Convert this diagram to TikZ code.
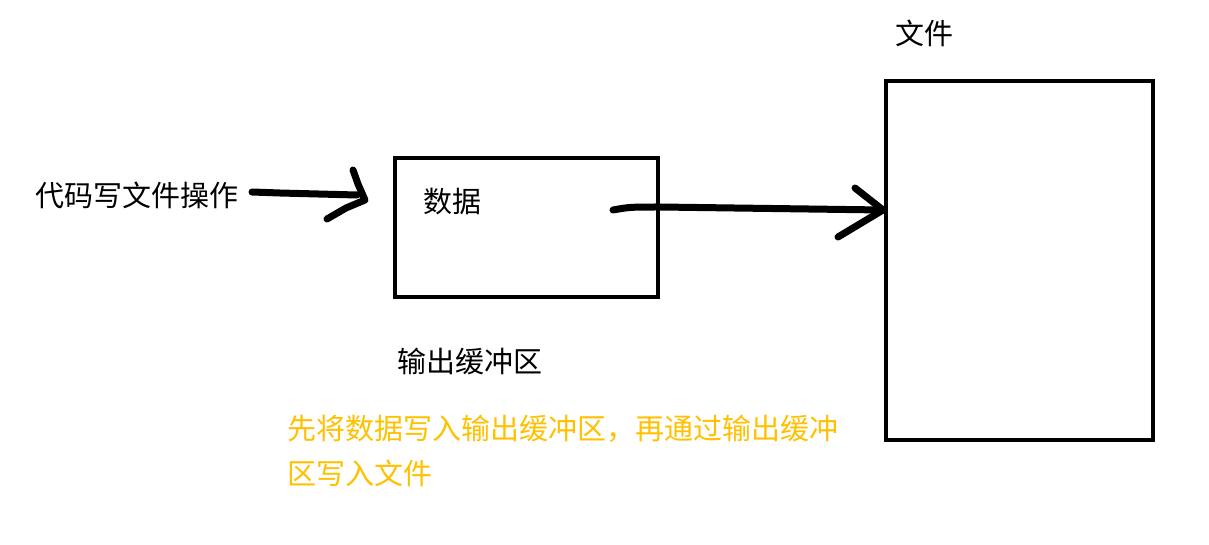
\documentclass[tikz,border=0pt]{standalone}
\usepackage{fontspec}
\setmainfont{Noto Sans CJK SC}
\usepackage{xcolor}
\usepackage{tikz}
\usetikzlibrary{positioning, calc}
\definecolor{notegold}{RGB}{255, 192, 0}
\tikzset{
  font=\fontsize{29}{45}\selectfont,
  boxblock/.style={
    rectangle, draw=black, line width=4pt, inner sep=0pt
  },
  labelblock/.style={inner sep=0pt, anchor=center},
  penline/.style={
    draw=black, line width=7pt, line cap=round, line join=round
  }
}

\begin{document}
\begin{tikzpicture}[x=1pt, y=-1pt]

  \useasboundingbox (0,0) rectangle (1209,545);

  % Output buffer and target file
  \node[boxblock, minimum width=263pt, minimum height=139pt] (buffer) at (526.5,227.5) {};
  \node[boxblock, minimum width=267pt, minimum height=359pt] (file) at (1019.5,260.5) {};

  % Labels
  \node[labelblock] (code) at (137,195) {代码写文件操作};
  \node[labelblock] (data) at (452,202) {数据};
  \node[labelblock] (bufferlabel) at (470,361) {输出缓冲区};
  \node[labelblock] (filelabel) at (924,33) {文件};
  \node[labelblock, anchor=west, align=left, text=notegold] (note) at (287,450.5)
    {先将数据写入输出缓冲区，再通过输出缓冲\\区写入文件};

  % Hand-drawn arrows
  \coordinate (inTail) at (252,192);
  \coordinate (inTip) at (365,200);
  \coordinate (outTail) at (613,210);
  \coordinate (outTip) at (883,210);

  \draw[penline] (inTail) -- (280,193) -- (357,195);
  \draw[penline] (353,170) -- (358,184) -- (inTip) -- (346,208) -- (327,219);

  \draw[penline] (outTail) .. controls (630,207) .. (660,207) -- (outTip);
  \draw[penline] (855,188) -- (outTip) -- (838,237);

\end{tikzpicture}
\end{document}
